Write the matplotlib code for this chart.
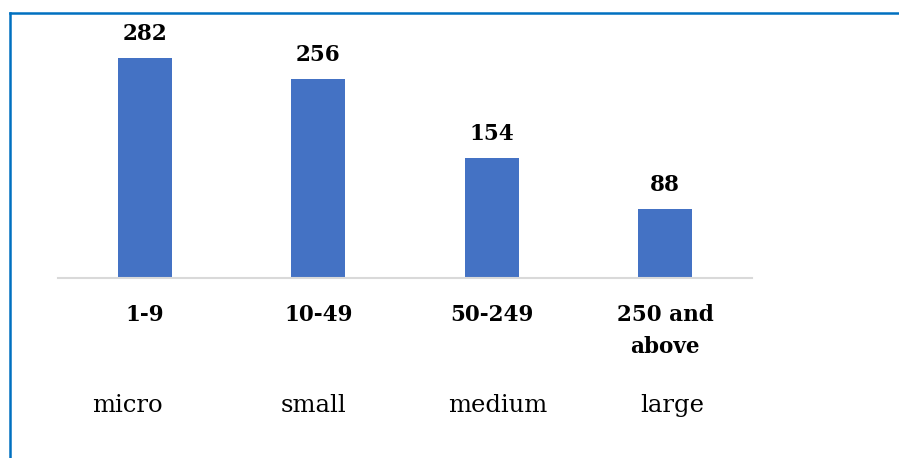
import matplotlib
matplotlib.use("Agg")
import matplotlib.pyplot as plt
from matplotlib.lines import Line2D
from matplotlib.transforms import blended_transform_factory, offset_copy

# ---- data ----
size_ranges = ["1-9", "10-49", "50-249", "250 and\nabove"]
size_classes = ["micro", "small", "medium", "large"]
counts = [282, 256, 154, 88]

# ---- style ----
BAR_COLOR = "#4472C4"
BORDER_COLOR = "#0070C0"
AXIS_COLOR = "#D9D9D9"
FONT = "DejaVu Serif"
class_label_shift_px = [-17, -5, 6, 7]

W, H = 899, 458
DPI = 100
fig = plt.figure(figsize=(W / DPI, H / DPI), dpi=DPI)

# axes placement in pixels
ax_left, ax_right = 58, 752
baseline_y = 277.5
px_per_unit = 0.777
ymax = 330
ax_h = ymax * px_per_unit
ax = fig.add_axes([ax_left / W, (H - baseline_y) / H, (ax_right - ax_left) / W, ax_h / H])

x = list(range(len(counts)))
bars = ax.bar(x, counts, width=0.311, color=BAR_COLOR, zorder=2)
ax.set_xlim(-0.5, len(counts) - 0.5)
ax.set_ylim(0, ymax)

for s in ["top", "right", "left"]:
    ax.spines[s].set_visible(False)
ax.spines["bottom"].set_color(AXIS_COLOR)
ax.spines["bottom"].set_linewidth(1.5)
ax.set_yticks([])
ax.set_xticks(x)
ax.set_xticklabels(size_ranges, fontfamily=FONT, fontweight="bold", fontsize=15.5,
                   linespacing=1.58)
ax.tick_params(axis="x", length=0, pad=19)

for xi, v in zip(x, counts):
    ax.annotate(str(v), (xi, v), xytext=(0, 13), textcoords="offset points",
                ha="center", va="baseline", fontfamily=FONT, fontweight="bold",
                fontsize=15.5)

# second row of category names
trans = blended_transform_factory(ax.transData, fig.transFigure)
for xi, name, dx in zip(x, size_classes, class_label_shift_px):
    t = offset_copy(trans, fig=fig, x=dx, y=0, units="dots")
    ax.text(xi, (H - 412) / H, name, transform=t, ha="center", va="baseline",
            fontfamily=FONT, fontsize=17.5)

# frame lines (top and left)
fig.add_artist(Line2D([10 / W, 1.0], [(H - 13) / H, (H - 13) / H],
                      transform=fig.transFigure, color=BORDER_COLOR, linewidth=1.8))
fig.add_artist(Line2D([10 / W, 10 / W], [0, (H - 13) / H],
                      transform=fig.transFigure, color=BORDER_COLOR, linewidth=1.8))

fig.savefig("out.png", dpi=DPI)
